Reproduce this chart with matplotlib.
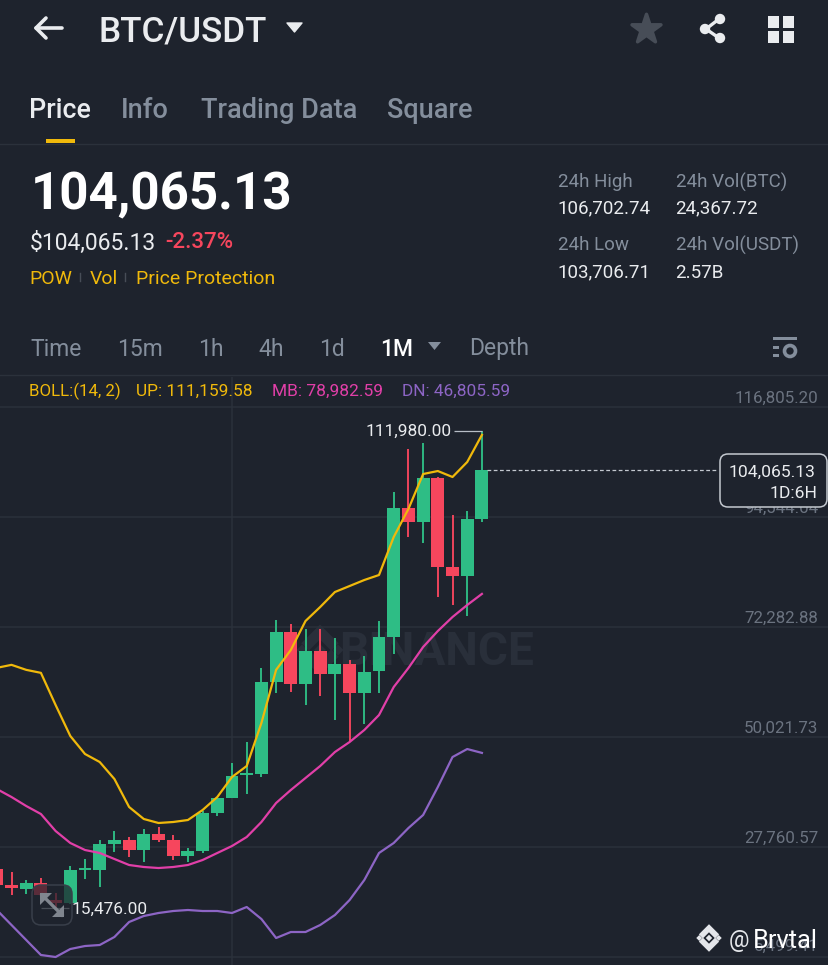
import matplotlib
matplotlib.use("Agg")
import matplotlib.pyplot as plt
from matplotlib.patches import FancyBboxPatch, Rectangle, Circle, Polygon

plt.rcParams['font.family'] = ['Roboto', 'DejaVu Sans']

# ---------- data (monthly candles) ----------
opens = [23309, 20071, 19262, 20476, 17035, 16428, 23107, 23107, 28368, 29178, 27154, 30392, 29178, 25940,
         26951, 34645, 37678, 42333, 42535, 61153, 71271, 60748, 67426, 62772, 64825, 58926, 63379, 70259,
         96365, 93532, 102437, 84425, 82604, 94139]
closes = [20071, 19464, 20476, 18047, 16428, 23107, 23512, 28368, 29178, 27154, 30392, 29178, 25940, 26951,
          34645, 37678, 42130, 42737, 61153, 71271, 60748, 67426, 62772, 64825, 58926, 63176, 70259, 96365,
          93532, 102437, 84425, 82604, 94139, 104065.13]
highs = [23309, 22702, 21083, 21488, 18452, 23916, 25333, 29178, 30999, 29785, 31404, 31808, 30189, 27559,
         35050, 37678, 44761, 49010, 64016, 73699, 72890, 71878, 71878, 70057, 65605, 66414, 73497, 99604,
         108306, 109520, 102640, 94949, 95758, 111980]
lows = [20071, 18047, 18249, 17440, 15476, 16226, 21285, 19667, 26749, 25737, 24725, 28773, 25130, 24725,
        26547, 34038, 37678, 38488, 41928, 58926, 59128, 56497, 58319, 53462, 49010, 52653, 58926, 66819,
        90497, 89282, 78355, 76735, 74509, 93532]
boll_up = [64017, 64624, 63612, 63005, 56499, 50226, 46583, 44964, 41524, 35858, 33430, 32620, 32823, 33226,
           35250, 37881, 41928, 44153, 52854, 63612, 67630, 73500, 76335, 79365, 80580, 81795, 82807, 90497,
           96165, 103245, 103850, 102640, 105675, 111159.58]
boll_mb = [39500, 37881, 36060, 34440, 31000, 28570, 27155, 26550, 25335, 24120, 23715, 23510, 23715, 24120,
           25130, 26550, 27965, 29785, 32820, 36670, 39300, 41730, 44155, 46985, 49010, 51440, 54475, 60140,
           63985, 68235, 71470, 74310, 76735, 78982.59]
boll_dn = [15013, 11978, 8942, 5907, 5500, 7120, 7725, 7930, 9550, 12585, 13800, 14406, 14810, 15013,
           14810, 14810, 14406, 15620, 13190, 9345, 10560, 10560, 11978, 14000, 17037, 21083, 26550, 28570,
           31600, 34240, 39900, 45970, 47590, 46805.59]
y_ticks = [116805.20, 94544.04, 72282.88, 50021.73, 27760.57, 5499.41]
last_price = 104065.13
max_price = 111980.00
min_price = 15476.00

BG = '#1e232d'
GRID = '#2b313b'
GREEN = '#2ebd85'
RED = '#f6465d'
YEL = '#f0b90b'
PINK = '#e13fa8'
PURP = '#8d65c5'
GRAY = '#848e9c'
WHITE = '#eaecef'
FAINT = '#292f3a'

fig = plt.figure(figsize=(8.29, 9.65), dpi=100, facecolor=BG)


def logo(axis, cx, cy, k, color, z):
    """Binance mark, k = half width in pixels."""
    top = [(0, -1), (0.78, -0.22), (0.47, 0.09), (0, -0.38), (-0.47, 0.09), (-0.78, -0.22)]
    top = [(x, y - 0.06) for x, y in top]
    for sign in (1, -1):
        axis.add_patch(Polygon([(cx + x * k, cy + sign * y * k) for x, y in top], closed=True, fc=color, ec='none', zorder=z))
    for dx, r in [(0, 0.25), (-0.75, 0.23), (0.75, 0.23)]:
        axis.add_patch(Polygon([(cx + (dx + r) * k, cy), (cx + dx * k, cy + r * k),
                                (cx + (dx - r) * k, cy), (cx + dx * k, cy - r * k)], closed=True, fc=color, ec='none', zorder=z))


# ---------- watermark below the chart ----------
wm = fig.add_axes([0, 0, 1, 1], facecolor='none', zorder=-1)
wm.set_xlim(0, 829)
wm.set_ylim(965, 0)
wm.axis('off')
wm.text(339, 652, 'BINANCE', color=FAINT, fontsize=33.2, fontweight='bold', va='center', ha='left')
logo(wm, 320, 650, 24, FAINT, 1)

# ---------- chart ----------
ax = fig.add_axes([0, 0, 1, (965 - 377) / 965], facecolor='none', zorder=1)
ax.set_xlim(-0.7823, 55.61)
ax.set_ylim(3883, 122877)
for s in ax.spines.values():
    s.set_visible(False)
ax.set_yticks(y_ticks)
ax.set_xticks([15])
ax.grid(True, color=GRID, lw=1.1)
ax.tick_params(length=0, labelleft=False, labelbottom=False)
ax.set_axisbelow(True)

n = len(closes)
xs = list(range(-1, n - 1))
for x, o, h, l, c in zip(xs, opens, highs, lows, closes):
    col = GREEN if c >= o else RED
    ax.vlines(x, l, h, color=col, lw=1.35, zorder=2)
    ax.bar(x, abs(c - o), bottom=min(o, c), width=0.88, color=col, zorder=3, linewidth=0)
ax.plot(xs, boll_up, color=YEL, lw=1.6, zorder=4)
ax.plot(xs, boll_mb, color=PINK, lw=1.6, zorder=4)
ax.plot(xs, boll_dn, color=PURP, lw=1.6, zorder=4)

for v in y_ticks:
    ax.annotate(f'{v:,.2f}', (1, v), xycoords=ax.get_yaxis_transform(), xytext=(-7.5, 6 if v > 6000 else 8),
                textcoords='offset points', ha='right', va='center', color='#6b7380', fontsize=12.2, zorder=1)

ax.hlines(last_price, 32.35, 48.06, color='#c4c9d0', lw=0.9, linestyles=(0, (3, 2)), zorder=5)
ax.hlines(max_price, 30.1, 32, color='#b7bdc6', lw=0.9, zorder=5)
ax.annotate(f'{max_price:,.2f}', (29.97, max_price), xytext=(0, -0.7), textcoords='offset points',
            ha='right', va='center', color=WHITE, fontsize=12.4, zorder=6)
ax.hlines(min_price, 2, 3.9, color='#b7bdc6', lw=0.9, zorder=5)
ax.annotate(f'{min_price:,.2f}', (4.05, min_price), xytext=(0, -1.4), textcoords='offset points',
            ha='left', va='center', color=WHITE, fontsize=12.4, zorder=6)

# ---------- overlay in pixels ----------
ui = fig.add_axes([0, 0, 1, 1], facecolor='none', zorder=2)
ui.set_xlim(0, 829)
ui.set_ylim(965, 0)
ui.axis('off')


def t(x, y, s, c=WHITE, fs=14, w='normal', ha='left', **k):
    return ui.text(x, y, s, color=c, fontsize=fs, fontweight=w, ha=ha, va='center', **k)


# header
ui.plot([36, 62], [28, 28], color=WHITE, lw=2.6, solid_capstyle='round')
ui.plot([46, 36, 46], [18, 28, 38], color=WHITE, lw=2.6, solid_capstyle='round', solid_joinstyle='round')
t(99, 31.5, 'BTC/USDT', WHITE, 25.3, 'medium')
ui.add_patch(Polygon([[287, 23], [302, 23], [294.5, 32]], closed=True, fc=WHITE, ec=WHITE, lw=1, joinstyle='round'))
ui.scatter([646], [29], marker='*', s=480, c='#474d57', edgecolors='#474d57', linewidths=2.5, joinstyle='round')
for (a, b) in [((719, 19), (706, 29)), ((706, 29), (719, 38))]:
    ui.plot([a[0], b[0]], [a[1], b[1]], color=WHITE, lw=2.4)
for (cx, cy) in [(720, 19), (705, 29), (720, 38)]:
    ui.add_patch(Circle((cx, cy), 5.2, fc=WHITE, ec='none'))
for (gx, gy) in [(768, 16), (783, 16), (768, 31), (783, 31)]:
    ui.add_patch(Rectangle((gx, gy), 11.5, 11.5, fc=WHITE, ec='none'))

# tabs
t(29.5, 110, 'Price', WHITE, 19.3, 'medium')
t(121, 110, 'Info', GRAY, 19.5, 'medium')
t(201, 110, 'Trading Data', GRAY, 19.5, 'medium')
t(387, 110, 'Square', GRAY, 19.5, 'medium')
ui.add_patch(Rectangle((46, 138.5), 29, 4.5, fc=YEL, ec='none'))
ui.plot([0, 829], [144, 144], color=GRID, lw=1)

# price block
t(31, 195, '104,065.13', '#ffffff', 36.8, 'bold')
t(29.5, 243, '$104,065.13', WHITE, 16.5)
t(165, 243, '-2.37%', RED, 16, 'medium')
t(29.5, 278.5, 'POW', YEL, 14)
t(90, 278.5, 'Vol', YEL, 14)
t(136, 278.5, 'Price Protection', YEL, 14)
ui.plot([80, 80], [273, 281], color='#474d57', lw=1)
ui.plot([125, 125], [273, 281], color='#474d57', lw=1)

# stats
t(558, 182, '24h High', GRAY, 13.5)
t(557.5, 208.5, '106,702.74', WHITE, 13.5)
t(676, 182, '24h Vol(BTC)', GRAY, 13.5)
t(675.5, 208.5, '24,367.72', WHITE, 13.5)
t(558, 245, '24h Low', GRAY, 13.5)
t(557.5, 272.5, '103,706.71', WHITE, 13.5)
t(676, 245, '24h Vol(USDT)', GRAY, 13.5)
t(675.5, 272.5, '2.57B', WHITE, 13.5)

# interval row
for x, s in [(30.5, 'Time'), (117.5, '15m'), (198.5, '1h'), (258.5, '4h'), (319.5, '1d'), (469.5, 'Depth')]:
    t(x, 349, s, GRAY, 16.5)
t(380.5, 349, '1M', '#ffffff', 16.5, 'medium')
ui.add_patch(Polygon([[428, 342], [441, 342], [434.5, 350]], closed=True, fc=GRAY, ec='none'))
ui.add_patch(Rectangle((773, 337), 24, 3, fc=GRAY, ec='none'))
ui.add_patch(Rectangle((773, 346), 6, 3, fc=GRAY, ec='none'))
ui.add_patch(Rectangle((773, 354), 6, 3, fc=GRAY, ec='none'))
ui.add_patch(Circle((790, 351), 5.5, fc=BG, ec=GRAY, lw=2.6))
ui.plot([0, 829], [375, 375], color=GRID, lw=1)

# legend
t(29, 391.5, 'BOLL:(14, 2)', YEL, 12.2)
t(136, 391.5, 'UP: 111,159.58', YEL, 12.4)
t(272, 391.5, 'MB: 78,982.59', PINK, 12.5)
t(402, 391.5, 'DN: 46,805.59', PURP, 12.4)

# price tag
ui.add_patch(FancyBboxPatch((725, 459), 97, 43, boxstyle='round,pad=5,rounding_size=8', fc=BG, ec='#c4c9d0', lw=1.1, zorder=6))
t(815, 472, '104,065.13', WHITE, 12.6, ha='right', zorder=7)
t(817, 493, '1D:6H', WHITE, 12.6, ha='right', zorder=7)

# expand button
ui.add_patch(FancyBboxPatch((36, 889), 32, 32, boxstyle='round,pad=4,rounding_size=9', fc=(0.118, 0.137, 0.176, 0.72), ec='#393f4a', lw=1.1, zorder=8))
for tip, a, b in [((40, 893), (52, 893), (40, 905)), ((64, 917), (52, 917), (64, 905))]:
    ui.add_patch(Polygon([tip, a, b], closed=True, fc='#80868f', ec='none', zorder=9))
ui.plot([42, 62], [895, 915], color='#80868f', lw=2.4, zorder=9)

# credit
logo(ui, 709, 938, 13, '#e4e6ea', 9)
t(729, 940, '@', '#e4e6ea', 16.5, zorder=9)
t(753, 941, 'Brvtal', '#ffffff', 18.3, zorder=9)

fig.savefig('out.png', dpi=100, facecolor=BG)
